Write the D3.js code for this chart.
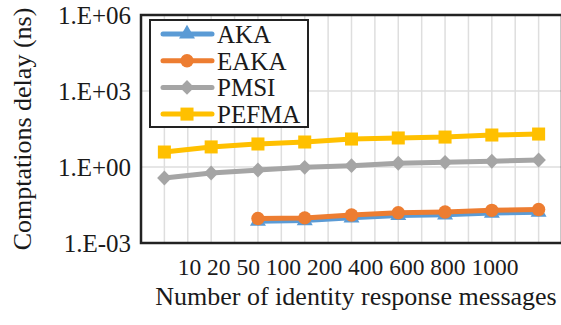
<!DOCTYPE html>
<html>
<head>
<meta charset="utf-8">
<script src="https://cdn.jsdelivr.net/npm/d3@7"></script>
<style>
  body { margin: 0; background: #fff; }
  svg text { font-family: "Liberation Serif", "DejaVu Serif", Times, serif; fill: #1a1a1a; }
</style>
</head>
<body>
<div id="chart"></div>
<script>

// Categories (number of identity response messages).
const categories = ["10", "20", "50", "100", "200", "400", "600", "800", "1000"];

// Series values (ns), null => no point.
const aka   = [null, null, 0.0073, 0.0077, 0.0099, 0.0122, 0.0130, 0.0152, 0.0164];
const eaka  = [null, null, 0.0093, 0.0098, 0.0127, 0.0157, 0.0167, 0.0195, 0.0210];
const pmsi  = [0.37, 0.58, 0.76, 0.97, 1.13, 1.40, 1.53, 1.68, 1.89];
const pefma = [3.9, 6.2, 8.1, 9.7, 12.7, 14.0, 15.2, 18.3, 20.0];

const seriesNames = ["AKA", "EAKA", "PMSI", "PEFMA"];
const yTickValues = [1e-3, 1, 1e3, 1e6];
const yTickLabels = ["1.E-03", "1.E+00", "1.E+03", "1.E+06"];

const WIDTH = 561, HEIGHT = 325;
const PLOT = {'left': 141, 'right': 562, 'top': 15, 'bottom': 243};
const SERIF = "'Liberation Serif', 'DejaVu Serif', Times, serif";

window.onload = function() {

    var svg = d3.select("#chart").append("svg")
                .attr("width", WIDTH)
                .attr("height", HEIGHT)
                .style("font-family", SERIF);

    var x = d3.scaleBand()
              .domain(categories)
              .range([PLOT.left, PLOT.right])
              .paddingInner(0);

    var y = d3.scaleLog()
              .domain([1e-3, 1e6])
              .range([PLOT.bottom, PLOT.top]);

    var cx = function (c) { return x(c) + x.bandwidth() / 2; };

    // vertical grid: band edges and centres
    var vg = [];
    categories.forEach(function (c) { vg.push(x(c)); vg.push(cx(c)); });
    svg.append("g").selectAll("line")
       .data(vg)
       .enter().append("line")
       .attr("x1", function (d) { return d; })
       .attr("x2", function (d) { return d; })
       .attr("y1", PLOT.top)
       .attr("y2", PLOT.bottom)
       .attr("stroke", "#dedede")
       .attr("stroke-width", 1.5);

    // horizontal grid
    svg.append("g").selectAll("line")
       .data(yTickValues)
       .enter().append("line")
       .attr("x1", PLOT.left)
       .attr("x2", PLOT.right)
       .attr("y1", function (d) { return y(d); })
       .attr("y2", function (d) { return y(d); })
       .attr("stroke", "#dedede")
       .attr("stroke-width", 1.5);

    // y axis labels
    var yAxis = d3.axisLeft(y)
                  .tickValues(yTickValues)
                  .tickSize(0)
                  .tickPadding(10)
                  .tickFormat(function (d, i) { return yTickLabels[i]; });
    var gy = svg.append("g")
                .attr("transform", "translate(" + PLOT.left + ",0)")
                .call(yAxis)
                .attr("font-family", null)
                .attr("font-size", null);
    gy.select(".domain").remove();
    gy.selectAll("text")
      .style("font-family", SERIF)
      .style("font-size", "25px")
      .attr("fill", "#1a1a1a")
      .attr("dy", "0.32em");

    // frame
    svg.append("rect")
       .attr("x", PLOT.left)
       .attr("y", PLOT.top)
       .attr("width", PLOT.right - PLOT.left)
       .attr("height", PLOT.bottom - PLOT.top)
       .attr("fill", "none")
       .attr("stroke", "#222")
       .attr("stroke-width", 2.5);

    // series
    var series = [
        {name: "AKA",   values: aka,   color: "#5b9bd5", marker: d3.symbolTriangle, size: 110, sx: 1,    sy: 1},
        {name: "EAKA",  values: eaka,  color: "#ed7d31", marker: d3.symbolCircle,   size: 140, sx: 1,    sy: 1},
        {name: "PMSI",  values: pmsi,  color: "#a5a5a5", marker: d3.symbolDiamond,  size: 100, sx: 1.35, sy: 0.8},
        {name: "PEFMA", values: pefma, color: "#ffc000", marker: d3.symbolSquare,   size: 170, sx: 1,    sy: 1}
    ];

    var line = d3.line()
                 .defined(function (d) { return d.v !== null; })
                 .x(function (d) { return cx(d.c); })
                 .y(function (d) { return y(d.v); });

    series.forEach(function (s) {
        var pts = s.values.map(function (v, i) { return {c: categories[i], v: v}; });
        var g = svg.append("g");
        g.append("path")
         .datum(pts)
         .attr("d", line)
         .attr("fill", "none")
         .attr("stroke", s.color)
         .attr("stroke-width", 5);
        g.selectAll("path.m")
         .data(pts.filter(function (d) { return d.v !== null; }))
         .enter().append("path")
         .attr("class", "m")
         .attr("d", d3.symbol().type(s.marker).size(s.size))
         .attr("transform", function (d) {
             return "translate(" + cx(d.c) + "," + y(d.v) + ") scale(" + s.sx + "," + s.sy + ")";
         })
         .attr("fill", s.color);
    });

    // legend
    var lg = svg.append("g");
    lg.append("rect")
      .attr("x", 150).attr("y", 20)
      .attr("width", 158).attr("height", 107)
      .attr("fill", "#fff")
      .attr("stroke", "#222")
      .attr("stroke-width", 2);

    series.forEach(function (s, i) {
        var ly = 34 + i * 26.7;
        lg.append("line")
          .attr("x1", 163).attr("x2", 212)
          .attr("y1", ly).attr("y2", ly)
          .attr("stroke", s.color)
          .attr("stroke-width", 5)
          .attr("stroke-linecap", "round");
        lg.append("path")
          .attr("d", d3.symbol().type(s.marker).size(s.size)())
          .attr("transform", "translate(187," + ly + ") scale(" + s.sx + "," + s.sy + ")")
          .attr("fill", s.color);
        lg.append("text")
          .attr("x", 217)
          .attr("y", ly + 9)
          .style("font-size", "25px")
          .text(seriesNames[i]);
    });

    // x tick labels (one squeezed row under the plot)
    svg.append("text")
       .attr("x", 348)
       .attr("y", 275)
       .attr("text-anchor", "middle")
       .style("font-size", "23.5px")
       .text(categories.join(" "));

    // axis titles
    svg.append("text")
       .attr("x", 356)
       .attr("y", 305)
       .attr("text-anchor", "middle")
       .style("font-size", "26px")
       .text("Number of identity response messages");

    svg.append("text")
       .attr("transform", "translate(31,129) rotate(-90)")
       .attr("text-anchor", "middle")
       .style("font-size", "26px")
       .text("Comptations delay (ns)");
};
</script>
</body>
</html>
